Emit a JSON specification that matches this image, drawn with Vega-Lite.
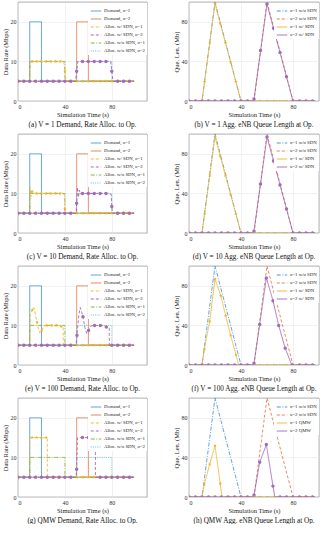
{
"$schema":"https://vega.github.io/schema/vega-lite/v6.json",
"padding":{"left":1,"top":1,"right":1,"bottom":0},
"spacing":5,
"datasets":{
"L":[
{"p":"L","s":"Demand, o=1","t":0,"v":5},{"p":"L","s":"Demand, o=1","t":10,"v":5},{"p":"L","s":"Demand, o=1","t":10.01,"v":20},{"p":"L","s":"Demand, o=1","t":20,"v":20},{"p":"L","s":"Demand, o=1","t":20.01,"v":5},{"p":"L","s":"Demand, o=1","t":99,"v":5},
{"p":"L","s":"Demand, o=2","t":0,"v":5},{"p":"L","s":"Demand, o=2","t":50,"v":5},{"p":"L","s":"Demand, o=2","t":50.01,"v":20},{"p":"L","s":"Demand, o=2","t":60,"v":20},{"p":"L","s":"Demand, o=2","t":60.01,"v":5},{"p":"L","s":"Demand, o=2","t":99,"v":5},
{"p":"L","s":"Alloc. w/o SDN, o=1","t":0,"v":5},{"p":"L","s":"Alloc. w/o SDN, o=1","t":10,"v":5},{"p":"L","s":"Alloc. w/o SDN, o=1","t":10.01,"v":10},{"p":"L","s":"Alloc. w/o SDN, o=1","t":40,"v":10},{"p":"L","s":"Alloc. w/o SDN, o=1","t":40.01,"v":5},{"p":"L","s":"Alloc. w/o SDN, o=1","t":99,"v":5},
{"p":"L","s":"Alloc. w/o SDN, o=2","t":0,"v":5},{"p":"L","s":"Alloc. w/o SDN, o=2","t":50,"v":5},{"p":"L","s":"Alloc. w/o SDN, o=2","t":50.01,"v":10},{"p":"L","s":"Alloc. w/o SDN, o=2","t":80,"v":10},{"p":"L","s":"Alloc. w/o SDN, o=2","t":80.01,"v":5},{"p":"L","s":"Alloc. w/o SDN, o=2","t":99,"v":5},
{"p":"R","s":"o=1 w/o SDN","t":0,"v":0},{"p":"R","s":"o=1 w/o SDN","t":10,"v":0},{"p":"R","s":"o=1 w/o SDN","t":20,"v":100},{"p":"R","s":"o=1 w/o SDN","t":40,"v":0},{"p":"R","s":"o=1 w/o SDN","t":97,"v":0},
{"p":"R","s":"o=2 w/o SDN","t":0,"v":0},{"p":"R","s":"o=2 w/o SDN","t":50,"v":0},{"p":"R","s":"o=2 w/o SDN","t":60,"v":100},{"p":"R","s":"o=2 w/o SDN","t":80,"v":0},{"p":"R","s":"o=2 w/o SDN","t":97,"v":0},
{"p":"a","s":"Alloc. w/ SDN, o=1","t":0,"v":5},{"p":"a","s":"Alloc. w/ SDN, o=1","t":10,"v":5},{"p":"a","s":"Alloc. w/ SDN, o=1","t":10.5,"v":10},{"p":"a","s":"Alloc. w/ SDN, o=1","t":39,"v":10},{"p":"a","s":"Alloc. w/ SDN, o=1","t":40,"v":7.5},{"p":"a","s":"Alloc. w/ SDN, o=1","t":41,"v":5},{"p":"a","s":"Alloc. w/ SDN, o=1","t":99,"v":5},
{"p":"a","s":"Alloc. w/ SDN, o=2","t":0,"v":5},{"p":"a","s":"Alloc. w/ SDN, o=2","t":49,"v":5},{"p":"a","s":"Alloc. w/ SDN, o=2","t":50,"v":7.5},{"p":"a","s":"Alloc. w/ SDN, o=2","t":51,"v":10},{"p":"a","s":"Alloc. w/ SDN, o=2","t":79,"v":10},{"p":"a","s":"Alloc. w/ SDN, o=2","t":80,"v":7.5},{"p":"a","s":"Alloc. w/ SDN, o=2","t":81,"v":5},{"p":"a","s":"Alloc. w/ SDN, o=2","t":99,"v":5},
{"p":"b","s":"o=1 w/ SDN","t":0,"v":0},{"p":"b","s":"o=1 w/ SDN","t":10,"v":0},{"p":"b","s":"o=1 w/ SDN","t":20,"v":98},{"p":"b","s":"o=1 w/ SDN","t":40,"v":0},{"p":"b","s":"o=1 w/ SDN","t":97,"v":0},
{"p":"b","s":"o=2 w/ SDN","t":0,"v":0},{"p":"b","s":"o=2 w/ SDN","t":49.8,"v":0},{"p":"b","s":"o=2 w/ SDN","t":60,"v":98},{"p":"b","s":"o=2 w/ SDN","t":80,"v":0},{"p":"b","s":"o=2 w/ SDN","t":97,"v":0},
{"p":"c","s":"Alloc. w/ SDN, o=1","t":0,"v":5},{"p":"c","s":"Alloc. w/ SDN, o=1","t":10,"v":5},{"p":"c","s":"Alloc. w/ SDN, o=1","t":10.3,"v":11.5},{"p":"c","s":"Alloc. w/ SDN, o=1","t":11,"v":9.2},{"p":"c","s":"Alloc. w/ SDN, o=1","t":12,"v":10.5},{"p":"c","s":"Alloc. w/ SDN, o=1","t":13,"v":9.8},{"p":"c","s":"Alloc. w/ SDN, o=1","t":14,"v":10.1},{"p":"c","s":"Alloc. w/ SDN, o=1","t":15,"v":10},{"p":"c","s":"Alloc. w/ SDN, o=1","t":37.5,"v":10},{"p":"c","s":"Alloc. w/ SDN, o=1","t":39.5,"v":9.7},{"p":"c","s":"Alloc. w/ SDN, o=1","t":40,"v":6},{"p":"c","s":"Alloc. w/ SDN, o=1","t":40.5,"v":5},{"p":"c","s":"Alloc. w/ SDN, o=1","t":99,"v":5},
{"p":"c","s":"Alloc. w/ SDN, o=2","t":0,"v":5},{"p":"c","s":"Alloc. w/ SDN, o=2","t":49.5,"v":5},{"p":"c","s":"Alloc. w/ SDN, o=2","t":50,"v":7.5},{"p":"c","s":"Alloc. w/ SDN, o=2","t":50.7,"v":11.5},{"p":"c","s":"Alloc. w/ SDN, o=2","t":51.5,"v":9},{"p":"c","s":"Alloc. w/ SDN, o=2","t":52.3,"v":10.8},{"p":"c","s":"Alloc. w/ SDN, o=2","t":53.3,"v":9.8},{"p":"c","s":"Alloc. w/ SDN, o=2","t":54.2,"v":10.1},{"p":"c","s":"Alloc. w/ SDN, o=2","t":55,"v":10},{"p":"c","s":"Alloc. w/ SDN, o=2","t":77,"v":10},{"p":"c","s":"Alloc. w/ SDN, o=2","t":79.5,"v":9.7},{"p":"c","s":"Alloc. w/ SDN, o=2","t":80,"v":6.7},{"p":"c","s":"Alloc. w/ SDN, o=2","t":80.5,"v":5},{"p":"c","s":"Alloc. w/ SDN, o=2","t":99,"v":5},
{"p":"d","s":"o=1 w/ SDN","t":0,"v":0},{"p":"d","s":"o=1 w/ SDN","t":10,"v":0},{"p":"d","s":"o=1 w/ SDN","t":20,"v":97},{"p":"d","s":"o=1 w/ SDN","t":40,"v":0},{"p":"d","s":"o=1 w/ SDN","t":97,"v":0},
{"p":"d","s":"o=2 w/ SDN","t":0,"v":0},{"p":"d","s":"o=2 w/ SDN","t":49.8,"v":0},{"p":"d","s":"o=2 w/ SDN","t":60,"v":97},{"p":"d","s":"o=2 w/ SDN","t":80,"v":0},{"p":"d","s":"o=2 w/ SDN","t":97,"v":0},
{"p":"e","s":"Alloc. w/ SDN, o=1","t":0,"v":5},{"p":"e","s":"Alloc. w/ SDN, o=1","t":10,"v":5},{"p":"e","s":"Alloc. w/ SDN, o=1","t":10.5,"v":12.5},{"p":"e","s":"Alloc. w/ SDN, o=1","t":12.2,"v":13.9},{"p":"e","s":"Alloc. w/ SDN, o=1","t":13.5,"v":14.6},{"p":"e","s":"Alloc. w/ SDN, o=1","t":15,"v":12.5},{"p":"e","s":"Alloc. w/ SDN, o=1","t":16.2,"v":10.8},{"p":"e","s":"Alloc. w/ SDN, o=1","t":17.5,"v":9},{"p":"e","s":"Alloc. w/ SDN, o=1","t":18.7,"v":8.1},{"p":"e","s":"Alloc. w/ SDN, o=1","t":20.2,"v":8.7},{"p":"e","s":"Alloc. w/ SDN, o=1","t":22,"v":9.8},{"p":"e","s":"Alloc. w/ SDN, o=1","t":24,"v":10},{"p":"e","s":"Alloc. w/ SDN, o=1","t":36,"v":10},{"p":"e","s":"Alloc. w/ SDN, o=1","t":37,"v":9.7},{"p":"e","s":"Alloc. w/ SDN, o=1","t":38.5,"v":9.5},{"p":"e","s":"Alloc. w/ SDN, o=1","t":38.6,"v":5},{"p":"e","s":"Alloc. w/ SDN, o=1","t":99,"v":5},
{"p":"e","s":"Alloc. w/ SDN, o=2","t":0,"v":5},{"p":"e","s":"Alloc. w/ SDN, o=2","t":49.5,"v":5},{"p":"e","s":"Alloc. w/ SDN, o=2","t":50.3,"v":7.5},{"p":"e","s":"Alloc. w/ SDN, o=2","t":51.8,"v":12.5},{"p":"e","s":"Alloc. w/ SDN, o=2","t":53.1,"v":14.5},{"p":"e","s":"Alloc. w/ SDN, o=2","t":54.2,"v":13.5},{"p":"e","s":"Alloc. w/ SDN, o=2","t":55.4,"v":12.2},{"p":"e","s":"Alloc. w/ SDN, o=2","t":57,"v":9.5},{"p":"e","s":"Alloc. w/ SDN, o=2","t":58.6,"v":8},{"p":"e","s":"Alloc. w/ SDN, o=2","t":60.2,"v":8.7},{"p":"e","s":"Alloc. w/ SDN, o=2","t":62,"v":9.8},{"p":"e","s":"Alloc. w/ SDN, o=2","t":64,"v":10},{"p":"e","s":"Alloc. w/ SDN, o=2","t":73,"v":10},{"p":"e","s":"Alloc. w/ SDN, o=2","t":75.3,"v":9.6},{"p":"e","s":"Alloc. w/ SDN, o=2","t":77.8,"v":9.4},{"p":"e","s":"Alloc. w/ SDN, o=2","t":77.9,"v":5},{"p":"e","s":"Alloc. w/ SDN, o=2","t":99,"v":5},
{"p":"f","s":"o=1 w/ SDN","t":0,"v":0},{"p":"f","s":"o=1 w/ SDN","t":10,"v":0},{"p":"f","s":"o=1 w/ SDN","t":11.8,"v":16},{"p":"f","s":"o=1 w/ SDN","t":15.9,"v":44},{"p":"f","s":"o=1 w/ SDN","t":20,"v":87},{"p":"f","s":"o=1 w/ SDN","t":24.4,"v":70},{"p":"f","s":"o=1 w/ SDN","t":28.2,"v":50},{"p":"f","s":"o=1 w/ SDN","t":32,"v":30},{"p":"f","s":"o=1 w/ SDN","t":36.2,"v":10},{"p":"f","s":"o=1 w/ SDN","t":38.2,"v":0},{"p":"f","s":"o=1 w/ SDN","t":97,"v":0},
{"p":"f","s":"o=2 w/ SDN","t":0,"v":0},{"p":"f","s":"o=2 w/ SDN","t":49.8,"v":0},{"p":"f","s":"o=2 w/ SDN","t":54.4,"v":41},{"p":"f","s":"o=2 w/ SDN","t":59.5,"v":88},{"p":"f","s":"o=2 w/ SDN","t":64.6,"v":65},{"p":"f","s":"o=2 w/ SDN","t":69,"v":40},{"p":"f","s":"o=2 w/ SDN","t":74,"v":17},{"p":"f","s":"o=2 w/ SDN","t":79,"v":0},{"p":"f","s":"o=2 w/ SDN","t":97,"v":0},
{"p":"g","s":"Alloc. w/ SDN, o=1","t":0,"v":5},{"p":"g","s":"Alloc. w/ SDN, o=1","t":10,"v":5},{"p":"g","s":"Alloc. w/ SDN, o=1","t":10.01,"v":15},{"p":"g","s":"Alloc. w/ SDN, o=1","t":25,"v":15},{"p":"g","s":"Alloc. w/ SDN, o=1","t":25.01,"v":5},{"p":"g","s":"Alloc. w/ SDN, o=1","t":99,"v":5},
{"p":"g","s":"Alloc. w/ SDN, o=2","t":0,"v":5},{"p":"g","s":"Alloc. w/ SDN, o=2","t":49.5,"v":5},{"p":"g","s":"Alloc. w/ SDN, o=2","t":50,"v":7},{"p":"g","s":"Alloc. w/ SDN, o=2","t":50.7,"v":15},{"p":"g","s":"Alloc. w/ SDN, o=2","t":66,"v":15},{"p":"g","s":"Alloc. w/ SDN, o=2","t":66.01,"v":5},{"p":"g","s":"Alloc. w/ SDN, o=2","t":99,"v":5},
{"p":"h","s":"o=1 QMW","t":0,"v":0},{"p":"h","s":"o=1 QMW","t":10,"v":0},{"p":"h","s":"o=1 QMW","t":11.8,"v":13},{"p":"h","s":"o=1 QMW","t":15.9,"v":33},{"p":"h","s":"o=1 QMW","t":20,"v":52},{"p":"h","s":"o=1 QMW","t":24,"v":13.7},{"p":"h","s":"o=1 QMW","t":25.4,"v":0},{"p":"h","s":"o=1 QMW","t":97,"v":0},
{"p":"h","s":"o=2 QMW","t":0,"v":0},{"p":"h","s":"o=2 QMW","t":49.8,"v":0},{"p":"h","s":"o=2 QMW","t":50,"v":2},{"p":"h","s":"o=2 QMW","t":54.4,"v":35},{"p":"h","s":"o=2 QMW","t":59.5,"v":53},{"p":"h","s":"o=2 QMW","t":64.6,"v":11},{"p":"h","s":"o=2 QMW","t":66,"v":0},{"p":"h","s":"o=2 QMW","t":97,"v":0}
],
"M":[
{"p":"a","s":"Alloc. w/ SDN, o=1","t":0,"v":5},{"p":"a","s":"Alloc. w/ SDN, o=1","t":5,"v":5},{"p":"a","s":"Alloc. w/ SDN, o=1","t":10,"v":5},{"p":"a","s":"Alloc. w/ SDN, o=1","t":12,"v":10},{"p":"a","s":"Alloc. w/ SDN, o=1","t":16,"v":10},{"p":"a","s":"Alloc. w/ SDN, o=1","t":20,"v":10},{"p":"a","s":"Alloc. w/ SDN, o=1","t":24,"v":10},{"p":"a","s":"Alloc. w/ SDN, o=1","t":28,"v":10},{"p":"a","s":"Alloc. w/ SDN, o=1","t":32,"v":10},{"p":"a","s":"Alloc. w/ SDN, o=1","t":36,"v":10},{"p":"a","s":"Alloc. w/ SDN, o=1","t":40,"v":7.5},{"p":"a","s":"Alloc. w/ SDN, o=1","t":45,"v":5},{"p":"a","s":"Alloc. w/ SDN, o=1","t":50,"v":5},{"p":"a","s":"Alloc. w/ SDN, o=1","t":55,"v":5},{"p":"a","s":"Alloc. w/ SDN, o=1","t":60,"v":5},{"p":"a","s":"Alloc. w/ SDN, o=1","t":65,"v":5},{"p":"a","s":"Alloc. w/ SDN, o=1","t":70,"v":5},{"p":"a","s":"Alloc. w/ SDN, o=1","t":75,"v":5},{"p":"a","s":"Alloc. w/ SDN, o=1","t":80,"v":5},{"p":"a","s":"Alloc. w/ SDN, o=1","t":85,"v":5},{"p":"a","s":"Alloc. w/ SDN, o=1","t":90,"v":5},{"p":"a","s":"Alloc. w/ SDN, o=1","t":95,"v":5},
{"p":"a","s":"Alloc. w/ SDN, o=2","t":0,"v":5},{"p":"a","s":"Alloc. w/ SDN, o=2","t":5,"v":5},{"p":"a","s":"Alloc. w/ SDN, o=2","t":10,"v":5},{"p":"a","s":"Alloc. w/ SDN, o=2","t":15,"v":5},{"p":"a","s":"Alloc. w/ SDN, o=2","t":20,"v":5},{"p":"a","s":"Alloc. w/ SDN, o=2","t":25,"v":5},{"p":"a","s":"Alloc. w/ SDN, o=2","t":30,"v":5},{"p":"a","s":"Alloc. w/ SDN, o=2","t":35,"v":5},{"p":"a","s":"Alloc. w/ SDN, o=2","t":40,"v":5},{"p":"a","s":"Alloc. w/ SDN, o=2","t":45,"v":5},{"p":"a","s":"Alloc. w/ SDN, o=2","t":50,"v":7.5},{"p":"a","s":"Alloc. w/ SDN, o=2","t":55,"v":10},{"p":"a","s":"Alloc. w/ SDN, o=2","t":60,"v":10},{"p":"a","s":"Alloc. w/ SDN, o=2","t":65,"v":10},{"p":"a","s":"Alloc. w/ SDN, o=2","t":70,"v":10},{"p":"a","s":"Alloc. w/ SDN, o=2","t":75,"v":10},{"p":"a","s":"Alloc. w/ SDN, o=2","t":80,"v":7.5},{"p":"a","s":"Alloc. w/ SDN, o=2","t":85,"v":5},{"p":"a","s":"Alloc. w/ SDN, o=2","t":90,"v":5},{"p":"a","s":"Alloc. w/ SDN, o=2","t":95,"v":5},
{"p":"b","s":"o=1 w/ SDN","t":0,"v":0},{"p":"b","s":"o=1 w/ SDN","t":5,"v":0},{"p":"b","s":"o=1 w/ SDN","t":10,"v":0},{"p":"b","s":"o=1 w/ SDN","t":12,"v":19.6},{"p":"b","s":"o=1 w/ SDN","t":16,"v":58.8},{"p":"b","s":"o=1 w/ SDN","t":20,"v":98},{"p":"b","s":"o=1 w/ SDN","t":24,"v":78.4},{"p":"b","s":"o=1 w/ SDN","t":28,"v":58.8},{"p":"b","s":"o=1 w/ SDN","t":32,"v":39.2},{"p":"b","s":"o=1 w/ SDN","t":36,"v":19.6},{"p":"b","s":"o=1 w/ SDN","t":40,"v":0},{"p":"b","s":"o=1 w/ SDN","t":45,"v":0},{"p":"b","s":"o=1 w/ SDN","t":50,"v":0},{"p":"b","s":"o=1 w/ SDN","t":55,"v":0},{"p":"b","s":"o=1 w/ SDN","t":60,"v":0},{"p":"b","s":"o=1 w/ SDN","t":65,"v":0},{"p":"b","s":"o=1 w/ SDN","t":70,"v":0},{"p":"b","s":"o=1 w/ SDN","t":75,"v":0},{"p":"b","s":"o=1 w/ SDN","t":80,"v":0},{"p":"b","s":"o=1 w/ SDN","t":85,"v":0},{"p":"b","s":"o=1 w/ SDN","t":90,"v":0},{"p":"b","s":"o=1 w/ SDN","t":95,"v":0},
{"p":"b","s":"o=2 w/ SDN","t":0,"v":0},{"p":"b","s":"o=2 w/ SDN","t":5,"v":0},{"p":"b","s":"o=2 w/ SDN","t":10,"v":0},{"p":"b","s":"o=2 w/ SDN","t":15,"v":0},{"p":"b","s":"o=2 w/ SDN","t":20,"v":0},{"p":"b","s":"o=2 w/ SDN","t":25,"v":0},{"p":"b","s":"o=2 w/ SDN","t":30,"v":0},{"p":"b","s":"o=2 w/ SDN","t":35,"v":0},{"p":"b","s":"o=2 w/ SDN","t":40,"v":0},{"p":"b","s":"o=2 w/ SDN","t":45,"v":0},{"p":"b","s":"o=2 w/ SDN","t":50,"v":2},{"p":"b","s":"o=2 w/ SDN","t":55,"v":51},{"p":"b","s":"o=2 w/ SDN","t":60,"v":98},{"p":"b","s":"o=2 w/ SDN","t":65,"v":73.5},{"p":"b","s":"o=2 w/ SDN","t":70,"v":49},{"p":"b","s":"o=2 w/ SDN","t":75,"v":24.5},{"p":"b","s":"o=2 w/ SDN","t":80,"v":0},{"p":"b","s":"o=2 w/ SDN","t":85,"v":0},{"p":"b","s":"o=2 w/ SDN","t":90,"v":0},{"p":"b","s":"o=2 w/ SDN","t":95,"v":0},
{"p":"c","s":"Alloc. w/ SDN, o=1","t":0,"v":5},{"p":"c","s":"Alloc. w/ SDN, o=1","t":5,"v":5},{"p":"c","s":"Alloc. w/ SDN, o=1","t":10,"v":5},{"p":"c","s":"Alloc. w/ SDN, o=1","t":12,"v":10.5},{"p":"c","s":"Alloc. w/ SDN, o=1","t":16,"v":10},{"p":"c","s":"Alloc. w/ SDN, o=1","t":20,"v":10},{"p":"c","s":"Alloc. w/ SDN, o=1","t":24,"v":10},{"p":"c","s":"Alloc. w/ SDN, o=1","t":28,"v":10},{"p":"c","s":"Alloc. w/ SDN, o=1","t":32,"v":10},{"p":"c","s":"Alloc. w/ SDN, o=1","t":36,"v":10},{"p":"c","s":"Alloc. w/ SDN, o=1","t":40,"v":6},{"p":"c","s":"Alloc. w/ SDN, o=1","t":45,"v":5},{"p":"c","s":"Alloc. w/ SDN, o=1","t":50,"v":5},{"p":"c","s":"Alloc. w/ SDN, o=1","t":55,"v":5},{"p":"c","s":"Alloc. w/ SDN, o=1","t":60,"v":5},{"p":"c","s":"Alloc. w/ SDN, o=1","t":65,"v":5},{"p":"c","s":"Alloc. w/ SDN, o=1","t":70,"v":5},{"p":"c","s":"Alloc. w/ SDN, o=1","t":75,"v":5},{"p":"c","s":"Alloc. w/ SDN, o=1","t":80,"v":5},{"p":"c","s":"Alloc. w/ SDN, o=1","t":85,"v":5},{"p":"c","s":"Alloc. w/ SDN, o=1","t":90,"v":5},{"p":"c","s":"Alloc. w/ SDN, o=1","t":95,"v":5},
{"p":"c","s":"Alloc. w/ SDN, o=2","t":0,"v":5},{"p":"c","s":"Alloc. w/ SDN, o=2","t":5,"v":5},{"p":"c","s":"Alloc. w/ SDN, o=2","t":10,"v":5},{"p":"c","s":"Alloc. w/ SDN, o=2","t":15,"v":5},{"p":"c","s":"Alloc. w/ SDN, o=2","t":20,"v":5},{"p":"c","s":"Alloc. w/ SDN, o=2","t":25,"v":5},{"p":"c","s":"Alloc. w/ SDN, o=2","t":30,"v":5},{"p":"c","s":"Alloc. w/ SDN, o=2","t":35,"v":5},{"p":"c","s":"Alloc. w/ SDN, o=2","t":40,"v":5},{"p":"c","s":"Alloc. w/ SDN, o=2","t":45,"v":5},{"p":"c","s":"Alloc. w/ SDN, o=2","t":50,"v":7.5},{"p":"c","s":"Alloc. w/ SDN, o=2","t":55,"v":10},{"p":"c","s":"Alloc. w/ SDN, o=2","t":60,"v":10},{"p":"c","s":"Alloc. w/ SDN, o=2","t":65,"v":10},{"p":"c","s":"Alloc. w/ SDN, o=2","t":70,"v":10},{"p":"c","s":"Alloc. w/ SDN, o=2","t":75,"v":10},{"p":"c","s":"Alloc. w/ SDN, o=2","t":80,"v":6.7},{"p":"c","s":"Alloc. w/ SDN, o=2","t":85,"v":5},{"p":"c","s":"Alloc. w/ SDN, o=2","t":90,"v":5},{"p":"c","s":"Alloc. w/ SDN, o=2","t":95,"v":5},
{"p":"d","s":"o=1 w/ SDN","t":0,"v":0},{"p":"d","s":"o=1 w/ SDN","t":5,"v":0},{"p":"d","s":"o=1 w/ SDN","t":10,"v":0},{"p":"d","s":"o=1 w/ SDN","t":12,"v":19.4},{"p":"d","s":"o=1 w/ SDN","t":16,"v":58.2},{"p":"d","s":"o=1 w/ SDN","t":20,"v":97},{"p":"d","s":"o=1 w/ SDN","t":24,"v":77.6},{"p":"d","s":"o=1 w/ SDN","t":28,"v":58.2},{"p":"d","s":"o=1 w/ SDN","t":32,"v":38.8},{"p":"d","s":"o=1 w/ SDN","t":36,"v":19.4},{"p":"d","s":"o=1 w/ SDN","t":40,"v":0},{"p":"d","s":"o=1 w/ SDN","t":45,"v":0},{"p":"d","s":"o=1 w/ SDN","t":50,"v":0},{"p":"d","s":"o=1 w/ SDN","t":55,"v":0},{"p":"d","s":"o=1 w/ SDN","t":60,"v":0},{"p":"d","s":"o=1 w/ SDN","t":65,"v":0},{"p":"d","s":"o=1 w/ SDN","t":70,"v":0},{"p":"d","s":"o=1 w/ SDN","t":75,"v":0},{"p":"d","s":"o=1 w/ SDN","t":80,"v":0},{"p":"d","s":"o=1 w/ SDN","t":85,"v":0},{"p":"d","s":"o=1 w/ SDN","t":90,"v":0},{"p":"d","s":"o=1 w/ SDN","t":95,"v":0},
{"p":"d","s":"o=2 w/ SDN","t":0,"v":0},{"p":"d","s":"o=2 w/ SDN","t":5,"v":0},{"p":"d","s":"o=2 w/ SDN","t":10,"v":0},{"p":"d","s":"o=2 w/ SDN","t":15,"v":0},{"p":"d","s":"o=2 w/ SDN","t":20,"v":0},{"p":"d","s":"o=2 w/ SDN","t":25,"v":0},{"p":"d","s":"o=2 w/ SDN","t":30,"v":0},{"p":"d","s":"o=2 w/ SDN","t":35,"v":0},{"p":"d","s":"o=2 w/ SDN","t":40,"v":0},{"p":"d","s":"o=2 w/ SDN","t":45,"v":0},{"p":"d","s":"o=2 w/ SDN","t":50,"v":1.9},{"p":"d","s":"o=2 w/ SDN","t":55,"v":49.4},{"p":"d","s":"o=2 w/ SDN","t":60,"v":97},{"p":"d","s":"o=2 w/ SDN","t":65,"v":72.8},{"p":"d","s":"o=2 w/ SDN","t":70,"v":48.5},{"p":"d","s":"o=2 w/ SDN","t":75,"v":24.3},{"p":"d","s":"o=2 w/ SDN","t":80,"v":0},{"p":"d","s":"o=2 w/ SDN","t":85,"v":0},{"p":"d","s":"o=2 w/ SDN","t":90,"v":0},{"p":"d","s":"o=2 w/ SDN","t":95,"v":0},
{"p":"e","s":"Alloc. w/ SDN, o=1","t":0,"v":5},{"p":"e","s":"Alloc. w/ SDN, o=1","t":5,"v":5},{"p":"e","s":"Alloc. w/ SDN, o=1","t":10,"v":5},{"p":"e","s":"Alloc. w/ SDN, o=1","t":12.2,"v":13.9},{"p":"e","s":"Alloc. w/ SDN, o=1","t":16.2,"v":10.8},{"p":"e","s":"Alloc. w/ SDN, o=1","t":20.2,"v":8.7},{"p":"e","s":"Alloc. w/ SDN, o=1","t":24.5,"v":10},{"p":"e","s":"Alloc. w/ SDN, o=1","t":28.7,"v":10},{"p":"e","s":"Alloc. w/ SDN, o=1","t":32.7,"v":10},{"p":"e","s":"Alloc. w/ SDN, o=1","t":36.9,"v":9.7},{"p":"e","s":"Alloc. w/ SDN, o=1","t":45,"v":5},{"p":"e","s":"Alloc. w/ SDN, o=1","t":50,"v":5},{"p":"e","s":"Alloc. w/ SDN, o=1","t":55,"v":5},{"p":"e","s":"Alloc. w/ SDN, o=1","t":60,"v":5},{"p":"e","s":"Alloc. w/ SDN, o=1","t":65,"v":5},{"p":"e","s":"Alloc. w/ SDN, o=1","t":70,"v":5},{"p":"e","s":"Alloc. w/ SDN, o=1","t":75,"v":5},{"p":"e","s":"Alloc. w/ SDN, o=1","t":80,"v":5},{"p":"e","s":"Alloc. w/ SDN, o=1","t":85,"v":5},{"p":"e","s":"Alloc. w/ SDN, o=1","t":90,"v":5},{"p":"e","s":"Alloc. w/ SDN, o=1","t":95,"v":5},
{"p":"e","s":"Alloc. w/ SDN, o=2","t":0,"v":5},{"p":"e","s":"Alloc. w/ SDN, o=2","t":5,"v":5},{"p":"e","s":"Alloc. w/ SDN, o=2","t":10,"v":5},{"p":"e","s":"Alloc. w/ SDN, o=2","t":15,"v":5},{"p":"e","s":"Alloc. w/ SDN, o=2","t":20,"v":5},{"p":"e","s":"Alloc. w/ SDN, o=2","t":25,"v":5},{"p":"e","s":"Alloc. w/ SDN, o=2","t":30,"v":5},{"p":"e","s":"Alloc. w/ SDN, o=2","t":35,"v":5},{"p":"e","s":"Alloc. w/ SDN, o=2","t":40,"v":5},{"p":"e","s":"Alloc. w/ SDN, o=2","t":45,"v":5},{"p":"e","s":"Alloc. w/ SDN, o=2","t":50.3,"v":7.5},{"p":"e","s":"Alloc. w/ SDN, o=2","t":55.4,"v":12.2},{"p":"e","s":"Alloc. w/ SDN, o=2","t":60.2,"v":8.7},{"p":"e","s":"Alloc. w/ SDN, o=2","t":65.3,"v":10},{"p":"e","s":"Alloc. w/ SDN, o=2","t":70.2,"v":10},{"p":"e","s":"Alloc. w/ SDN, o=2","t":75.3,"v":9.6},{"p":"e","s":"Alloc. w/ SDN, o=2","t":80,"v":5},{"p":"e","s":"Alloc. w/ SDN, o=2","t":85,"v":5},{"p":"e","s":"Alloc. w/ SDN, o=2","t":90,"v":5},{"p":"e","s":"Alloc. w/ SDN, o=2","t":95,"v":5},
{"p":"f","s":"o=1 w/ SDN","t":0,"v":0},{"p":"f","s":"o=1 w/ SDN","t":5,"v":0},{"p":"f","s":"o=1 w/ SDN","t":10,"v":0},{"p":"f","s":"o=1 w/ SDN","t":11.8,"v":16},{"p":"f","s":"o=1 w/ SDN","t":15.9,"v":44},{"p":"f","s":"o=1 w/ SDN","t":20,"v":87},{"p":"f","s":"o=1 w/ SDN","t":24.4,"v":70},{"p":"f","s":"o=1 w/ SDN","t":28.2,"v":50},{"p":"f","s":"o=1 w/ SDN","t":32,"v":30},{"p":"f","s":"o=1 w/ SDN","t":36.2,"v":10},{"p":"f","s":"o=1 w/ SDN","t":40,"v":0},{"p":"f","s":"o=1 w/ SDN","t":45,"v":0},{"p":"f","s":"o=1 w/ SDN","t":50,"v":0},{"p":"f","s":"o=1 w/ SDN","t":55,"v":0},{"p":"f","s":"o=1 w/ SDN","t":60,"v":0},{"p":"f","s":"o=1 w/ SDN","t":65,"v":0},{"p":"f","s":"o=1 w/ SDN","t":70,"v":0},{"p":"f","s":"o=1 w/ SDN","t":75,"v":0},{"p":"f","s":"o=1 w/ SDN","t":80,"v":0},{"p":"f","s":"o=1 w/ SDN","t":85,"v":0},{"p":"f","s":"o=1 w/ SDN","t":90,"v":0},{"p":"f","s":"o=1 w/ SDN","t":95,"v":0},
{"p":"f","s":"o=2 w/ SDN","t":0,"v":0},{"p":"f","s":"o=2 w/ SDN","t":5,"v":0},{"p":"f","s":"o=2 w/ SDN","t":10,"v":0},{"p":"f","s":"o=2 w/ SDN","t":15,"v":0},{"p":"f","s":"o=2 w/ SDN","t":20,"v":0},{"p":"f","s":"o=2 w/ SDN","t":25,"v":0},{"p":"f","s":"o=2 w/ SDN","t":30,"v":0},{"p":"f","s":"o=2 w/ SDN","t":35,"v":0},{"p":"f","s":"o=2 w/ SDN","t":40,"v":0},{"p":"f","s":"o=2 w/ SDN","t":45,"v":0},{"p":"f","s":"o=2 w/ SDN","t":50,"v":1.8},{"p":"f","s":"o=2 w/ SDN","t":54.4,"v":41},{"p":"f","s":"o=2 w/ SDN","t":59.5,"v":88},{"p":"f","s":"o=2 w/ SDN","t":64.6,"v":65},{"p":"f","s":"o=2 w/ SDN","t":69,"v":40},{"p":"f","s":"o=2 w/ SDN","t":74,"v":17},{"p":"f","s":"o=2 w/ SDN","t":79.5,"v":0},{"p":"f","s":"o=2 w/ SDN","t":85,"v":0},{"p":"f","s":"o=2 w/ SDN","t":90,"v":0},{"p":"f","s":"o=2 w/ SDN","t":95,"v":0},
{"p":"g","s":"Alloc. w/ SDN, o=1","t":0,"v":5},{"p":"g","s":"Alloc. w/ SDN, o=1","t":5,"v":5},{"p":"g","s":"Alloc. w/ SDN, o=1","t":10,"v":5},{"p":"g","s":"Alloc. w/ SDN, o=1","t":12,"v":15},{"p":"g","s":"Alloc. w/ SDN, o=1","t":16,"v":15},{"p":"g","s":"Alloc. w/ SDN, o=1","t":20,"v":15},{"p":"g","s":"Alloc. w/ SDN, o=1","t":24,"v":15},{"p":"g","s":"Alloc. w/ SDN, o=1","t":30,"v":5},{"p":"g","s":"Alloc. w/ SDN, o=1","t":35,"v":5},{"p":"g","s":"Alloc. w/ SDN, o=1","t":40,"v":5},{"p":"g","s":"Alloc. w/ SDN, o=1","t":45,"v":5},{"p":"g","s":"Alloc. w/ SDN, o=1","t":50,"v":5},{"p":"g","s":"Alloc. w/ SDN, o=1","t":55,"v":5},{"p":"g","s":"Alloc. w/ SDN, o=1","t":60,"v":5},{"p":"g","s":"Alloc. w/ SDN, o=1","t":65,"v":5},{"p":"g","s":"Alloc. w/ SDN, o=1","t":70,"v":5},{"p":"g","s":"Alloc. w/ SDN, o=1","t":75,"v":5},{"p":"g","s":"Alloc. w/ SDN, o=1","t":80,"v":5},{"p":"g","s":"Alloc. w/ SDN, o=1","t":85,"v":5},{"p":"g","s":"Alloc. w/ SDN, o=1","t":90,"v":5},{"p":"g","s":"Alloc. w/ SDN, o=1","t":95,"v":5},
{"p":"g","s":"Alloc. w/ SDN, o=2","t":0,"v":5},{"p":"g","s":"Alloc. w/ SDN, o=2","t":5,"v":5},{"p":"g","s":"Alloc. w/ SDN, o=2","t":10,"v":5},{"p":"g","s":"Alloc. w/ SDN, o=2","t":15,"v":5},{"p":"g","s":"Alloc. w/ SDN, o=2","t":20,"v":5},{"p":"g","s":"Alloc. w/ SDN, o=2","t":25,"v":5},{"p":"g","s":"Alloc. w/ SDN, o=2","t":30,"v":5},{"p":"g","s":"Alloc. w/ SDN, o=2","t":35,"v":5},{"p":"g","s":"Alloc. w/ SDN, o=2","t":40,"v":5},{"p":"g","s":"Alloc. w/ SDN, o=2","t":45,"v":5},{"p":"g","s":"Alloc. w/ SDN, o=2","t":50,"v":7},{"p":"g","s":"Alloc. w/ SDN, o=2","t":55,"v":15},{"p":"g","s":"Alloc. w/ SDN, o=2","t":60,"v":15},{"p":"g","s":"Alloc. w/ SDN, o=2","t":65,"v":15},{"p":"g","s":"Alloc. w/ SDN, o=2","t":70,"v":5},{"p":"g","s":"Alloc. w/ SDN, o=2","t":75,"v":5},{"p":"g","s":"Alloc. w/ SDN, o=2","t":80,"v":5},{"p":"g","s":"Alloc. w/ SDN, o=2","t":85,"v":5},{"p":"g","s":"Alloc. w/ SDN, o=2","t":90,"v":5},{"p":"g","s":"Alloc. w/ SDN, o=2","t":95,"v":5},
{"p":"h","s":"o=1 QMW","t":0,"v":0},{"p":"h","s":"o=1 QMW","t":5,"v":0},{"p":"h","s":"o=1 QMW","t":10,"v":0},{"p":"h","s":"o=1 QMW","t":11.8,"v":13},{"p":"h","s":"o=1 QMW","t":15.9,"v":33},{"p":"h","s":"o=1 QMW","t":20,"v":52},{"p":"h","s":"o=1 QMW","t":24,"v":13.7},{"p":"h","s":"o=1 QMW","t":30,"v":0},{"p":"h","s":"o=1 QMW","t":35,"v":0},{"p":"h","s":"o=1 QMW","t":40,"v":0},{"p":"h","s":"o=1 QMW","t":45,"v":0},{"p":"h","s":"o=1 QMW","t":50,"v":0},{"p":"h","s":"o=1 QMW","t":55,"v":0},{"p":"h","s":"o=1 QMW","t":60,"v":0},{"p":"h","s":"o=1 QMW","t":65,"v":0},{"p":"h","s":"o=1 QMW","t":70,"v":0},{"p":"h","s":"o=1 QMW","t":75,"v":0},{"p":"h","s":"o=1 QMW","t":80,"v":0},{"p":"h","s":"o=1 QMW","t":85,"v":0},{"p":"h","s":"o=1 QMW","t":90,"v":0},{"p":"h","s":"o=1 QMW","t":95,"v":0},
{"p":"h","s":"o=2 QMW","t":0,"v":0},{"p":"h","s":"o=2 QMW","t":5,"v":0},{"p":"h","s":"o=2 QMW","t":10,"v":0},{"p":"h","s":"o=2 QMW","t":15,"v":0},{"p":"h","s":"o=2 QMW","t":20,"v":0},{"p":"h","s":"o=2 QMW","t":25,"v":0},{"p":"h","s":"o=2 QMW","t":30,"v":0},{"p":"h","s":"o=2 QMW","t":35,"v":0},{"p":"h","s":"o=2 QMW","t":40,"v":0},{"p":"h","s":"o=2 QMW","t":45,"v":0},{"p":"h","s":"o=2 QMW","t":50,"v":2},{"p":"h","s":"o=2 QMW","t":54.4,"v":35},{"p":"h","s":"o=2 QMW","t":59.5,"v":53},{"p":"h","s":"o=2 QMW","t":64.6,"v":11},{"p":"h","s":"o=2 QMW","t":70,"v":0},{"p":"h","s":"o=2 QMW","t":75,"v":0},{"p":"h","s":"o=2 QMW","t":80,"v":0},{"p":"h","s":"o=2 QMW","t":85,"v":0},{"p":"h","s":"o=2 QMW","t":90,"v":0},{"p":"h","s":"o=2 QMW","t":95,"v":0}
]
},
"vconcat":[
{"spacing":24,"hconcat":[
{"width":129,"height":99,"title":"(a) V = 1 Demand, Rate Alloc. to Op.","layer":[
{"data":{"name":"L"},"transform":[{"filter":"datum.p=='a'||datum.p=='L'"}],"mark":{"type":"line","strokeWidth":0.8,"clip":true},"encoding":{
"x":{"field":"t","type":"quantitative","scale":{"domain":[0,110],"nice":false},"axis":{"title":"Simulation Time (s)","values":[0,10,20,30,40,50,60,70,80,90,100]}},
"y":{"field":"v","type":"quantitative","scale":{"domain":[0,25],"nice":false},"axis":{"title":"Data Rate (Mbps)","values":[0,5,10,15,20,25]}},
"color":{"field":"s","type":"nominal","scale":{"domain":["Demand, o=1","Demand, o=2","Alloc. w/ SDN, o=1","Alloc. w/ SDN, o=2","Alloc. w/o SDN, o=1","Alloc. w/o SDN, o=2"],"range":["#3d8fcc","#e07040","#EDB120","#9a5bb0","#77AC30","#4DBEEE"]},"legend":{"title":null,"symbolType":"stroke"}},
"strokeDash":{"field":"s","type":"nominal","scale":{"domain":["Demand, o=1","Demand, o=2","Alloc. w/ SDN, o=1","Alloc. w/ SDN, o=2","Alloc. w/o SDN, o=1","Alloc. w/o SDN, o=2"],"range":[[1,0],[1,0],[3,2],[3,2],[4,1.5,1,1.5],[1,1.2]]},"legend":{"title":null}}}},
{"data":{"name":"M"},"transform":[{"filter":"datum.p=='a'&&datum.s=='Alloc. w/ SDN, o=1'"}],"mark":{"type":"point","filled":true,"size":14,"opacity":1,"clip":true,"color":"#EDB120","shape":"M0,-1L0.24,-0.33L0.95,-0.31L0.38,0.12L0.59,0.81L0,0.4L-0.59,0.81L-0.38,0.12L-0.95,-0.31L-0.24,-0.33Z"},"encoding":{"x":{"field":"t","type":"quantitative"},"y":{"field":"v","type":"quantitative"}}},
{"data":{"name":"M"},"transform":[{"filter":"datum.p=='a'&&datum.s=='Alloc. w/ SDN, o=2'"}],"mark":{"type":"point","filled":true,"size":12,"opacity":1,"clip":true,"color":"#a46bb8","shape":"circle"},"encoding":{"x":{"field":"t","type":"quantitative"},"y":{"field":"v","type":"quantitative"}}}
]},
{"width":130,"height":99,"title":"(b) V = 1 Agg. eNB Queue Length at Op.","layer":[
{"data":{"name":"L"},"transform":[{"filter":"datum.p=='b'||datum.p=='R'"}],"mark":{"type":"line","strokeWidth":0.8,"clip":true},"encoding":{
"x":{"field":"t","type":"quantitative","scale":{"domain":[0,100],"nice":false},"axis":{"title":"Simulation Time (s)","values":[0,10,20,30,40,50,60,70,80,90,100]}},
"y":{"field":"v","type":"quantitative","scale":{"domain":[0,100],"nice":false},"axis":{"title":"Que. Len. (Mb)","values":[0,20,40,60,80,100]}},
"color":{"field":"s","type":"nominal","scale":{"domain":["o=1 w/o SDN","o=2 w/o SDN","o=1 w/ SDN","o=2 w/ SDN"],"range":["#3d8fcc","#e07040","#EDB120","#9a5bb0"]},"legend":{"title":null,"symbolType":"stroke"}},
"strokeDash":{"field":"s","type":"nominal","scale":{"domain":["o=1 w/o SDN","o=2 w/o SDN","o=1 w/ SDN","o=2 w/ SDN"],"range":[[4,1.5,1,1.5],[3,2],[1,0],[1,0]]},"legend":{"title":null}}}},
{"data":{"name":"M"},"transform":[{"filter":"datum.p=='b'&&datum.s=='o=1 w/ SDN'"}],"mark":{"type":"point","filled":true,"size":14,"opacity":1,"clip":true,"color":"#EDB120","shape":"M0,-1L0.24,-0.33L0.95,-0.31L0.38,0.12L0.59,0.81L0,0.4L-0.59,0.81L-0.38,0.12L-0.95,-0.31L-0.24,-0.33Z"},"encoding":{"x":{"field":"t","type":"quantitative"},"y":{"field":"v","type":"quantitative"}}},
{"data":{"name":"M"},"transform":[{"filter":"datum.p=='b'&&datum.s=='o=2 w/ SDN'"}],"mark":{"type":"point","filled":true,"size":12,"opacity":1,"clip":true,"color":"#a46bb8","shape":"circle"},"encoding":{"x":{"field":"t","type":"quantitative"},"y":{"field":"v","type":"quantitative"}}}
]}
],"resolve":{"scale":{"color":"independent","strokeDash":"independent"}}},
{"spacing":24,"hconcat":[
{"width":129,"height":99,"title":"(c) V = 10 Demand, Rate Alloc. to Op.","layer":[
{"data":{"name":"L"},"transform":[{"filter":"datum.p=='c'||datum.p=='L'"}],"mark":{"type":"line","strokeWidth":0.8,"clip":true},"encoding":{
"x":{"field":"t","type":"quantitative","scale":{"domain":[0,110],"nice":false},"axis":{"title":"Simulation Time (s)","values":[0,10,20,30,40,50,60,70,80,90,100]}},
"y":{"field":"v","type":"quantitative","scale":{"domain":[0,25],"nice":false},"axis":{"title":"Data Rate (Mbps)","values":[0,5,10,15,20,25]}},
"color":{"field":"s","type":"nominal","scale":{"domain":["Demand, o=1","Demand, o=2","Alloc. w/ SDN, o=1","Alloc. w/ SDN, o=2","Alloc. w/o SDN, o=1","Alloc. w/o SDN, o=2"],"range":["#3d8fcc","#e07040","#EDB120","#9a5bb0","#77AC30","#4DBEEE"]},"legend":{"title":null,"symbolType":"stroke"}},
"strokeDash":{"field":"s","type":"nominal","scale":{"domain":["Demand, o=1","Demand, o=2","Alloc. w/ SDN, o=1","Alloc. w/ SDN, o=2","Alloc. w/o SDN, o=1","Alloc. w/o SDN, o=2"],"range":[[1,0],[1,0],[3,2],[3,2],[4,1.5,1,1.5],[1,1.2]]},"legend":{"title":null}}}},
{"data":{"name":"M"},"transform":[{"filter":"datum.p=='c'&&datum.s=='Alloc. w/ SDN, o=1'"}],"mark":{"type":"point","filled":true,"size":14,"opacity":1,"clip":true,"color":"#EDB120","shape":"M0,-1L0.24,-0.33L0.95,-0.31L0.38,0.12L0.59,0.81L0,0.4L-0.59,0.81L-0.38,0.12L-0.95,-0.31L-0.24,-0.33Z"},"encoding":{"x":{"field":"t","type":"quantitative"},"y":{"field":"v","type":"quantitative"}}},
{"data":{"name":"M"},"transform":[{"filter":"datum.p=='c'&&datum.s=='Alloc. w/ SDN, o=2'"}],"mark":{"type":"point","filled":true,"size":12,"opacity":1,"clip":true,"color":"#a46bb8","shape":"circle"},"encoding":{"x":{"field":"t","type":"quantitative"},"y":{"field":"v","type":"quantitative"}}}
]},
{"width":130,"height":99,"title":"(d) V = 10 Agg. eNB Queue Length at Op.","layer":[
{"data":{"name":"L"},"transform":[{"filter":"datum.p=='d'||datum.p=='R'"}],"mark":{"type":"line","strokeWidth":0.8,"clip":true},"encoding":{
"x":{"field":"t","type":"quantitative","scale":{"domain":[0,100],"nice":false},"axis":{"title":"Simulation Time (s)","values":[0,10,20,30,40,50,60,70,80,90,100]}},
"y":{"field":"v","type":"quantitative","scale":{"domain":[0,100],"nice":false},"axis":{"title":"Que. Len. (Mb)","values":[0,20,40,60,80,100]}},
"color":{"field":"s","type":"nominal","scale":{"domain":["o=1 w/o SDN","o=2 w/o SDN","o=1 w/ SDN","o=2 w/ SDN"],"range":["#3d8fcc","#e07040","#EDB120","#9a5bb0"]},"legend":{"title":null,"symbolType":"stroke"}},
"strokeDash":{"field":"s","type":"nominal","scale":{"domain":["o=1 w/o SDN","o=2 w/o SDN","o=1 w/ SDN","o=2 w/ SDN"],"range":[[4,1.5,1,1.5],[3,2],[1,0],[1,0]]},"legend":{"title":null}}}},
{"data":{"name":"M"},"transform":[{"filter":"datum.p=='d'&&datum.s=='o=1 w/ SDN'"}],"mark":{"type":"point","filled":true,"size":14,"opacity":1,"clip":true,"color":"#EDB120","shape":"M0,-1L0.24,-0.33L0.95,-0.31L0.38,0.12L0.59,0.81L0,0.4L-0.59,0.81L-0.38,0.12L-0.95,-0.31L-0.24,-0.33Z"},"encoding":{"x":{"field":"t","type":"quantitative"},"y":{"field":"v","type":"quantitative"}}},
{"data":{"name":"M"},"transform":[{"filter":"datum.p=='d'&&datum.s=='o=2 w/ SDN'"}],"mark":{"type":"point","filled":true,"size":12,"opacity":1,"clip":true,"color":"#a46bb8","shape":"circle"},"encoding":{"x":{"field":"t","type":"quantitative"},"y":{"field":"v","type":"quantitative"}}}
]}
],"resolve":{"scale":{"color":"independent","strokeDash":"independent"}}},
{"spacing":24,"hconcat":[
{"width":129,"height":99,"title":"(e) V = 100 Demand, Rate Alloc. to Op.","layer":[
{"data":{"name":"L"},"transform":[{"filter":"datum.p=='e'||datum.p=='L'"}],"mark":{"type":"line","strokeWidth":0.8,"clip":true},"encoding":{
"x":{"field":"t","type":"quantitative","scale":{"domain":[0,110],"nice":false},"axis":{"title":"Simulation Time (s)","values":[0,10,20,30,40,50,60,70,80,90,100]}},
"y":{"field":"v","type":"quantitative","scale":{"domain":[0,25],"nice":false},"axis":{"title":"Data Rate (Mbps)","values":[0,5,10,15,20,25]}},
"color":{"field":"s","type":"nominal","scale":{"domain":["Demand, o=1","Demand, o=2","Alloc. w/ SDN, o=1","Alloc. w/ SDN, o=2","Alloc. w/o SDN, o=1","Alloc. w/o SDN, o=2"],"range":["#3d8fcc","#e07040","#EDB120","#9a5bb0","#77AC30","#4DBEEE"]},"legend":{"title":null,"symbolType":"stroke"}},
"strokeDash":{"field":"s","type":"nominal","scale":{"domain":["Demand, o=1","Demand, o=2","Alloc. w/ SDN, o=1","Alloc. w/ SDN, o=2","Alloc. w/o SDN, o=1","Alloc. w/o SDN, o=2"],"range":[[1,0],[1,0],[3,2],[3,2],[4,1.5,1,1.5],[1,1.2]]},"legend":{"title":null}}}},
{"data":{"name":"M"},"transform":[{"filter":"datum.p=='e'&&datum.s=='Alloc. w/ SDN, o=1'"}],"mark":{"type":"point","filled":true,"size":14,"opacity":1,"clip":true,"color":"#EDB120","shape":"M0,-1L0.24,-0.33L0.95,-0.31L0.38,0.12L0.59,0.81L0,0.4L-0.59,0.81L-0.38,0.12L-0.95,-0.31L-0.24,-0.33Z"},"encoding":{"x":{"field":"t","type":"quantitative"},"y":{"field":"v","type":"quantitative"}}},
{"data":{"name":"M"},"transform":[{"filter":"datum.p=='e'&&datum.s=='Alloc. w/ SDN, o=2'"}],"mark":{"type":"point","filled":true,"size":12,"opacity":1,"clip":true,"color":"#a46bb8","shape":"circle"},"encoding":{"x":{"field":"t","type":"quantitative"},"y":{"field":"v","type":"quantitative"}}}
]},
{"width":130,"height":99,"title":"(f) V = 100 Agg. eNB Queue Length at Op.","layer":[
{"data":{"name":"L"},"transform":[{"filter":"datum.p=='f'||datum.p=='R'"}],"mark":{"type":"line","strokeWidth":0.8,"clip":true},"encoding":{
"x":{"field":"t","type":"quantitative","scale":{"domain":[0,100],"nice":false},"axis":{"title":"Simulation Time (s)","values":[0,10,20,30,40,50,60,70,80,90,100]}},
"y":{"field":"v","type":"quantitative","scale":{"domain":[0,100],"nice":false},"axis":{"title":"Que. Len. (Mb)","values":[0,20,40,60,80,100]}},
"color":{"field":"s","type":"nominal","scale":{"domain":["o=1 w/o SDN","o=2 w/o SDN","o=1 w/ SDN","o=2 w/ SDN"],"range":["#3d8fcc","#e07040","#EDB120","#9a5bb0"]},"legend":{"title":null,"symbolType":"stroke"}},
"strokeDash":{"field":"s","type":"nominal","scale":{"domain":["o=1 w/o SDN","o=2 w/o SDN","o=1 w/ SDN","o=2 w/ SDN"],"range":[[4,1.5,1,1.5],[3,2],[1,0],[1,0]]},"legend":{"title":null}}}},
{"data":{"name":"M"},"transform":[{"filter":"datum.p=='f'&&datum.s=='o=1 w/ SDN'"}],"mark":{"type":"point","filled":true,"size":14,"opacity":1,"clip":true,"color":"#EDB120","shape":"M0,-1L0.24,-0.33L0.95,-0.31L0.38,0.12L0.59,0.81L0,0.4L-0.59,0.81L-0.38,0.12L-0.95,-0.31L-0.24,-0.33Z"},"encoding":{"x":{"field":"t","type":"quantitative"},"y":{"field":"v","type":"quantitative"}}},
{"data":{"name":"M"},"transform":[{"filter":"datum.p=='f'&&datum.s=='o=2 w/ SDN'"}],"mark":{"type":"point","filled":true,"size":12,"opacity":1,"clip":true,"color":"#a46bb8","shape":"circle"},"encoding":{"x":{"field":"t","type":"quantitative"},"y":{"field":"v","type":"quantitative"}}}
]}
],"resolve":{"scale":{"color":"independent","strokeDash":"independent"}}},
{"spacing":24,"hconcat":[
{"width":129,"height":99,"title":"(g) QMW Demand, Rate Alloc. to Op.","layer":[
{"data":{"name":"L"},"transform":[{"filter":"datum.p=='g'||datum.p=='L'"}],"mark":{"type":"line","strokeWidth":0.8,"clip":true},"encoding":{
"x":{"field":"t","type":"quantitative","scale":{"domain":[0,110],"nice":false},"axis":{"title":"Simulation Time (s)","values":[0,10,20,30,40,50,60,70,80,90,100]}},
"y":{"field":"v","type":"quantitative","scale":{"domain":[0,25],"nice":false},"axis":{"title":"Data Rate (Mbps)","values":[0,5,10,15,20,25]}},
"color":{"field":"s","type":"nominal","scale":{"domain":["Demand, o=1","Demand, o=2","Alloc. w/ SDN, o=1","Alloc. w/ SDN, o=2","Alloc. w/o SDN, o=1","Alloc. w/o SDN, o=2"],"range":["#3d8fcc","#e07040","#EDB120","#9a5bb0","#77AC30","#4DBEEE"]},"legend":{"title":null,"symbolType":"stroke"}},
"strokeDash":{"field":"s","type":"nominal","scale":{"domain":["Demand, o=1","Demand, o=2","Alloc. w/ SDN, o=1","Alloc. w/ SDN, o=2","Alloc. w/o SDN, o=1","Alloc. w/o SDN, o=2"],"range":[[1,0],[1,0],[3,2],[3,2],[4,1.5,1,1.5],[1,1.2]]},"legend":{"title":null}}}},
{"data":{"name":"M"},"transform":[{"filter":"datum.p=='g'&&datum.s=='Alloc. w/ SDN, o=1'"}],"mark":{"type":"point","filled":true,"size":14,"opacity":1,"clip":true,"color":"#EDB120","shape":"M0,-1L0.24,-0.33L0.95,-0.31L0.38,0.12L0.59,0.81L0,0.4L-0.59,0.81L-0.38,0.12L-0.95,-0.31L-0.24,-0.33Z"},"encoding":{"x":{"field":"t","type":"quantitative"},"y":{"field":"v","type":"quantitative"}}},
{"data":{"name":"M"},"transform":[{"filter":"datum.p=='g'&&datum.s=='Alloc. w/ SDN, o=2'"}],"mark":{"type":"point","filled":true,"size":12,"opacity":1,"clip":true,"color":"#a46bb8","shape":"circle"},"encoding":{"x":{"field":"t","type":"quantitative"},"y":{"field":"v","type":"quantitative"}}}
]},
{"width":130,"height":99,"title":"(h) QMW Agg. eNB Queue Length at Op.","layer":[
{"data":{"name":"L"},"transform":[{"filter":"datum.p=='h'||datum.p=='R'"}],"mark":{"type":"line","strokeWidth":0.8,"clip":true},"encoding":{
"x":{"field":"t","type":"quantitative","scale":{"domain":[0,100],"nice":false},"axis":{"title":"Simulation Time (s)","values":[0,10,20,30,40,50,60,70,80,90,100]}},
"y":{"field":"v","type":"quantitative","scale":{"domain":[0,100],"nice":false},"axis":{"title":"Que. Len. (Mb)","values":[0,20,40,60,80,100]}},
"color":{"field":"s","type":"nominal","scale":{"domain":["o=1 w/o SDN","o=2 w/o SDN","o=1 QMW","o=2 QMW"],"range":["#3d8fcc","#e07040","#EDB120","#9a5bb0"]},"legend":{"title":null,"symbolType":"stroke"}},
"strokeDash":{"field":"s","type":"nominal","scale":{"domain":["o=1 w/o SDN","o=2 w/o SDN","o=1 QMW","o=2 QMW"],"range":[[4,1.5,1,1.5],[3,2],[1,0],[1,0]]},"legend":{"title":null}}}},
{"data":{"name":"M"},"transform":[{"filter":"datum.p=='h'&&datum.s=='o=1 QMW'"}],"mark":{"type":"point","filled":true,"size":14,"opacity":1,"clip":true,"color":"#EDB120","shape":"M0,-1L0.24,-0.33L0.95,-0.31L0.38,0.12L0.59,0.81L0,0.4L-0.59,0.81L-0.38,0.12L-0.95,-0.31L-0.24,-0.33Z"},"encoding":{"x":{"field":"t","type":"quantitative"},"y":{"field":"v","type":"quantitative"}}},
{"data":{"name":"M"},"transform":[{"filter":"datum.p=='h'&&datum.s=='o=2 QMW'"}],"mark":{"type":"point","filled":true,"size":12,"opacity":1,"clip":true,"color":"#a46bb8","shape":"circle"},"encoding":{"x":{"field":"t","type":"quantitative"},"y":{"field":"v","type":"quantitative"}}}
]}
],"resolve":{"scale":{"color":"independent","strokeDash":"independent"}}}
],
"resolve":{"scale":{"color":"independent","strokeDash":"independent"}},
"config":{
"font":"Liberation Serif",
"view":{"stroke":"#777777","strokeWidth":0.6},
"axis":{"labelFont":"Liberation Serif","titleFont":"Liberation Serif","labelFontSize":6,"titleFontSize":6.5,"titleFontWeight":"normal","labelColor":"#333333","titleColor":"#222222","gridColor":"#e2e2e2","gridWidth":0.5,"domain":false,"ticks":false,"labelPadding":2,"titlePadding":2,"labelOverlap":false},
"legend":{"orient":"top-right","offset":0.5,"fillColor":"white","padding":2,"labelFont":"Liberation Serif","labelFontSize":4.8,"labelColor":"#222222","symbolSize":110,"symbolStrokeWidth":0.9,"rowPadding":0,"labelOffset":2},
"title":{"font":"Liberation Serif","fontSize":7.2,"fontWeight":"normal","color":"#111111","orient":"bottom","offset":3}
}
}
